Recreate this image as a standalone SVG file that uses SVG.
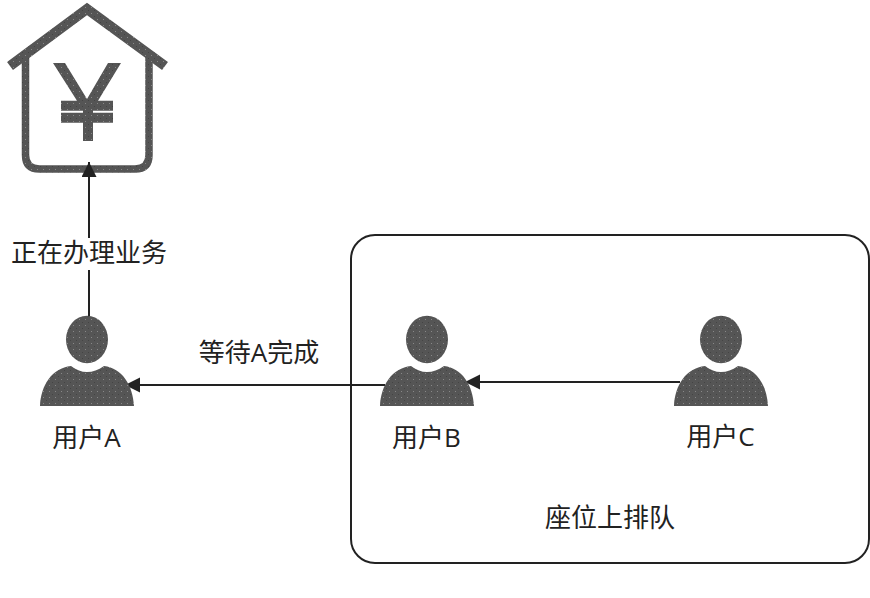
<svg xmlns="http://www.w3.org/2000/svg" width="870" height="598" viewBox="0 0 870 598">
<style>
text{font-family:"Open Sans","Noto Sans CJK SC",sans-serif;font-size:26px;fill:#222;text-anchor:middle}
.c{stroke:#222;stroke-width:2;fill:none}
.f{fill:url(#dots)}
</style>
<defs>
<pattern id="dots" width="6" height="6" patternUnits="userSpaceOnUse">
<rect width="6" height="6" fill="#555"/>
<rect x="1" y="1" width="1" height="1" fill="#888"/>
<rect x="4" y="4" width="1" height="1" fill="#444"/>
</pattern>
<marker id="a" markerUnits="userSpaceOnUse" markerWidth="16" markerHeight="16" refX="15" refY="7.5" orient="auto">
<path d="M0 0L15 7.5L0 15Z" fill="#222"/>
</marker>
<g id="person">
<ellipse cx="87" cy="339.500" rx="21" ry="23.700" class="f"/>
<path d="M40 406C41 385 52 368 71 366C77 370 81 372 87 372C93 372 98 370 104 366C122 368 133 385 134 406Z" class="f"/>
</g>
</defs>
<g id="group-box">
<rect x="351" y="235" width="518" height="328" rx="24" fill="none" stroke="#222" stroke-width="2"/>
</g>
<g id="bank">
<path d="M10 66L87 9L165 66" fill="none" stroke="url(#dots)" stroke-width="10"/>
<path d="M25.500 56V155Q25.500 169 39.500 169H135Q149 169 149 155V56" fill="none" stroke="url(#dots)" stroke-width="7.500"/>
<path d="M53 63H65L87 99L108 63H121L98 100.700H113V110.700H93V112.700H113V122.700H93V141H83V122.700H61V112.700H83V110.700H61V100.700H77Z" class="f"/>
</g>
<g id="connectors">
<path class="c" d="M89 317V162" marker-end="url(#a)"/>
<rect x="10" y="238" width="159" height="32" fill="#fff"/>
<path class="c" d="M385 385H125" marker-end="url(#a)"/>
<path class="c" d="M680 382H465" marker-end="url(#a)"/>
</g>
<g id="user-a"><use href="#person"/><text x="86.500" y="447">用户A</text></g>
<g id="user-b"><use href="#person" x="340"/><text x="426.500" y="447">用户B</text></g>
<g id="user-c"><use href="#person" x="634"/><text x="720.500" y="446">用户C</text></g>
<g id="labels">
<text x="89" y="262">正在办理业务</text>
<text x="259" y="362">等待A完成</text>
<text x="610" y="527">座位上排队</text>
</g>
</svg>
